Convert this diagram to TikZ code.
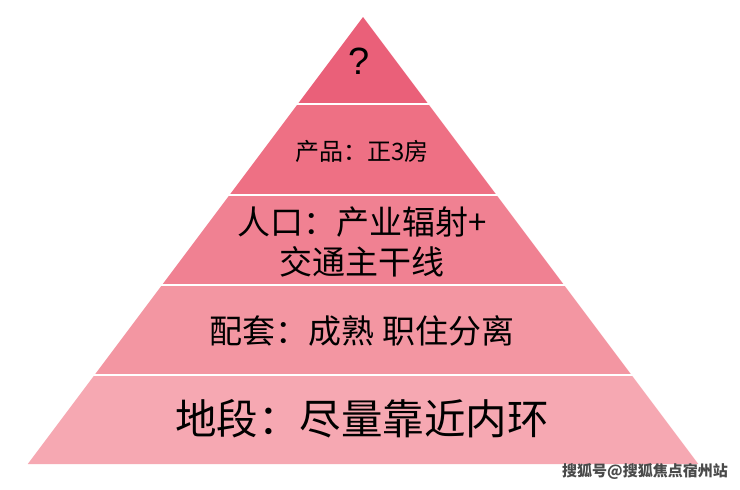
\documentclass[tikz,border=0pt]{standalone}
\usepackage{fontspec}
\setmainfont{Noto Sans CJK SC}
\newfontfamily\latinfont{Liberation Sans}
\definecolor{lay1}{HTML}{EA6079}
\definecolor{lay2}{HTML}{EE7084}
\definecolor{lay3}{HTML}{F08192}
\definecolor{lay4}{HTML}{F396A2}
\definecolor{lay5}{HTML}{F6A8B2}
\definecolor{wmark}{HTML}{4A4A4A}
\tikzset{
  layertext/.style={text=black, inner sep=0pt, align=center},
  gapline/.style={draw=white, line width=2.6pt},
}
\begin{document}
\begin{tikzpicture}[x=1pt,y=-1pt]
\useasboundingbox[fill=white] (0,0) rectangle (740,490);
% layers
\fill[lay1] (363,17) -- (428.25,104) -- (297.75,104) -- cycle;
\fill[lay2] (297.75,104) -- (428.25,104) -- (496.5,195) -- (229.5,195) -- cycle;
\fill[lay3] (229.5,195) -- (496.5,195) -- (564,285) -- (162,285) -- cycle;
\fill[lay4] (162,285) -- (564,285) -- (631.5,375) -- (94.5,375) -- cycle;
\fill[lay5] (94.5,375) -- (631.5,375) -- (698.25,464) -- (27.75,464) -- cycle;
% white gaps
\draw[gapline] (290,104) -- (436,104);
\draw[gapline] (222,195) -- (504,195);
\draw[gapline] (154,285) -- (572,285);
\draw[gapline] (86,375) -- (640,375);
% texts
\node[layertext, font=\latinfont\fontsize{38}{42}\selectfont] (t1) at (359,61) {?};
\node[layertext, font=\fontsize{24}{28}\selectfont] (t2) at (362,151) {产品：正3房};
\node[layertext, font=\fontsize{33}{40}\selectfont] (t3) at (362,242) {人口：产业辐射+\\交通主干线};
\node[layertext, font=\fontsize{33}{36}\selectfont] (t4) at (362,331) {配套：成熟 职住分离};
\node[layertext, font=\fontsize{41.5}{45}\selectfont] (t5) at (362,419) {地段：尽量靠近内环};
\node[text=wmark, inner sep=0pt, font=\bfseries\fontsize{15}{17}\selectfont, anchor=east] (wm) at (728,471) {搜狐号@搜狐焦点宿州站};
\end{tikzpicture}
\end{document}
